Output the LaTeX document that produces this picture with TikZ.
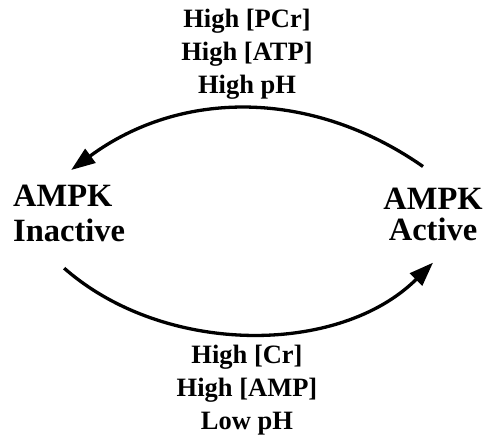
\documentclass[tikz,border=0pt]{standalone}
\usepackage{fontspec}
\setmainfont{Liberation Serif}
\usetikzlibrary{arrows.meta}
\begin{document}
\begin{tikzpicture}[x=1pt, y=-1pt,
  statestyle/.style={black, inner sep=0pt, font=\fontsize{32.5}{34}\selectfont\bfseries},
  condstyle/.style={black, inner sep=0pt, align=center, anchor=north, font=\fontsize{26.5}{32.8}\selectfont\bfseries},
  arcstyle/.style={line width=3.3pt, -{Triangle[length=24pt, width=17pt]}}]
  \useasboundingbox (0,0) rectangle (489,436);

  \node [statestyle, align=left, anchor=north west] (Inact) at (13,185) {AMPK\\[1pt]Inactive};
  \node [statestyle, align=center, anchor=north] (Act) at (433,187.5) {AMPK\\[-3pt]Active};

  \node [condstyle] (Off) at (247,9) {High [PCr]\\High [ATP]\\High pH};
  \node [condstyle] (On) at (247,345) {High [Cr]\\High [AMP]\\Low pH};

  \draw [arcstyle] ([shift={(-10,-21)}]Act.north) .. controls (312,89) and (181,89) .. ([shift={(2,-15)}]Inact.north);
  \draw [arcstyle] ([shift={(-5,26)}]Inact.south) .. controls (164,356) and (339,356) .. ([shift={(0,22)}]Act.south);
\end{tikzpicture}
\end{document}
